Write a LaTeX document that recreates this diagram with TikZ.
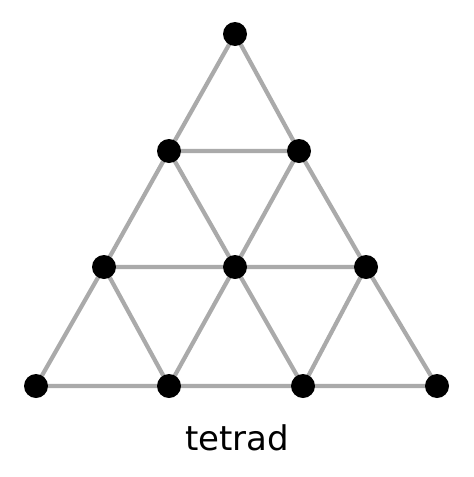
\documentclass[tikz,border=0pt]{standalone}
\usepackage{fontspec}
\setmainfont{DejaVu Sans}
\usetikzlibrary{backgrounds}
\definecolor{edgegray}{HTML}{AAAAAA}
\begin{document}
\begin{tikzpicture}[x=1pt,y=-1pt,
  dot/.style={circle,fill=black,inner sep=0pt,minimum size=24pt},
  edge/.style={draw=edgegray,line width=4.2pt}]
\useasboundingbox (0,0) rectangle (474,477);
\node[dot] (a) at (235,34) {};
\node[dot] (b1) at (169,151) {};
\node[dot] (b2) at (299,151) {};
\node[dot] (c1) at (104,267) {};
\node[dot] (c2) at (235,267) {};
\node[dot] (c3) at (366,267) {};
\node[dot] (d1) at (36,386) {};
\node[dot] (d2) at (169,386) {};
\node[dot] (d3) at (303,386) {};
\node[dot] (d4) at (437,386) {};
\begin{scope}[on background layer]
\fill[white] (0,0) rectangle (474,477);
\path[edge] (a.center) -- (b1.center) (a.center) -- (b2.center) (b1.center) -- (b2.center)
  (b1.center) -- (c1.center) (b1.center) -- (c2.center) (b2.center) -- (c2.center) (b2.center) -- (c3.center)
  (c1.center) -- (c2.center) (c2.center) -- (c3.center)
  (c1.center) -- (d1.center) (c1.center) -- (d2.center) (c2.center) -- (d2.center) (c2.center) -- (d3.center)
  (c3.center) -- (d3.center) (c3.center) -- (d4.center)
  (d1.center) -- (d2.center) (d2.center) -- (d3.center) (d3.center) -- (d4.center);
\end{scope}
\node[anchor=base,font=\fontsize{34}{40}\selectfont,inner sep=0pt] (t) at (237,450) {tetrad};
\end{tikzpicture}
\end{document}
